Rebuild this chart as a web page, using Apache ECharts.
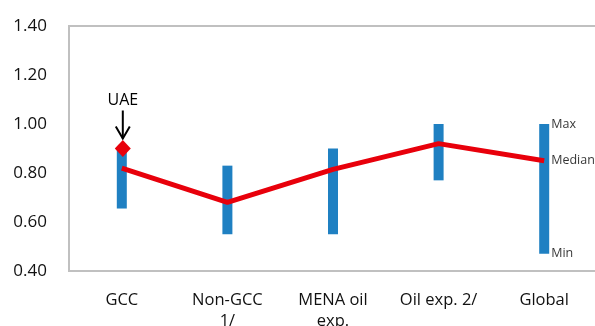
<!DOCTYPE html>
<html>
<head>
<meta charset="utf-8">
<script src="https://cdn.jsdelivr.net/npm/echarts@6/dist/echarts.min.js"></script>
<style>
  html, body { margin: 0; padding: 0; background: #fff; }
  #chart { width: 595px; height: 326px; }
</style>
</head>
<body>
<div id="chart"></div>
<script>
// Ranges of the ratio across each country group: min, median and max
const categories = ['GCC', 'Non-GCC\n1/', 'MENA oil\nexp.', 'Oil exp. 2/', 'Global'];
const maxVals = [0.90, 0.83, 0.90, 1.00, 1.00];
const minVals = [0.655, 0.55, 0.55, 0.77, 0.47];
const medians = [0.82, 0.68, 0.815, 0.92, 0.85];
const uaeValue = 0.90;
const uaeCategory = 'GCC';
const keyNames = ['Max', 'Median', 'Min'];
const yTicks = { min: 0.4, max: 1.4, interval: 0.2 };

const FONT = '"Open Sans", "Noto Sans", sans-serif';
const BLUE = '#1f80c2';
const RED = '#e8000b';

const chart = echarts.init(document.getElementById('chart'), null, { renderer: 'canvas' });

// Visible part of each bar spans min..max, stacked on an invisible base at min
const spans = maxVals.map((v, i) => +(v - minVals[i]).toFixed(4));
const lastIdx = categories.length - 1;
const keyPoints = [maxVals[lastIdx], medians[lastIdx], minVals[lastIdx]].map((v, i) => ({
  value: [categories[lastIdx], v],
  name: keyNames[i]
}));

chart.setOption({
  animation: false,
  grid: {
    left: 69, top: 26, width: 528, height: 245,
    outerBoundsMode: 'none', containLabel: false,
    show: true, borderColor: '#c0c0c0', borderWidth: 2, backgroundColor: 'transparent'
  },
  xAxis: {
    type: 'category',
    data: categories,
    axisLine: { show: false },
    axisTick: { show: false },
    axisLabel: { fontFamily: FONT, fontSize: 16.5, color: '#111', margin: 19, lineHeight: 21, interval: 0, verticalAlign: 'top' }
  },
  yAxis: {
    type: 'value',
    min: yTicks.min, max: yTicks.max, interval: yTicks.interval,
    splitLine: { show: false },
    axisLine: { show: false },
    axisTick: { show: false },
    axisLabel: { fontFamily: FONT, fontSize: 17, color: '#111', margin: 22, formatter: v => v.toFixed(2) }
  },
  series: [
    {
      type: 'bar', stack: 'range', barWidth: 10, silent: true,
      itemStyle: { color: 'transparent' },
      data: minVals
    },
    {
      type: 'bar', stack: 'range', barWidth: 10,
      itemStyle: { color: BLUE },
      data: spans
    },
    {
      type: 'line', data: medians, symbol: 'none', z: 5,
      lineStyle: { color: RED, width: 5 }
    },
    {
      type: 'scatter', z: 6,
      data: [[uaeCategory, uaeValue]],
      symbol: 'diamond', symbolSize: [16, 17], symbolOffset: [1, 0],
      itemStyle: { color: RED, opacity: 1 },
      label: {
        show: true, position: 'top', distance: 32,
        formatter: 'UAE', fontFamily: FONT, fontSize: 16, color: '#000'
      }
    },
    {
      type: 'scatter', z: 6,
      data: keyPoints,
      symbolSize: 0,
      label: {
        show: true, position: 'right', distance: 7,
        formatter: p => p.name, fontFamily: FONT, fontSize: 12.5, color: '#000'
      }
    }
  ]
});

// Arrow pointing from the "UAE" label down to its marker
const p = chart.convertToPixel({ gridIndex: 0 }, [uaeCategory, uaeValue]);
const ax = p[0] + 1, y0 = p[1] - 38, y1 = p[1] - 10;
chart.setOption({
  graphic: [{
    type: 'group', z: 10,
    children: [
      { type: 'line', shape: { x1: ax, y1: y0, x2: ax, y2: y1 }, style: { stroke: '#000', lineWidth: 2 } },
      { type: 'polyline', shape: { points: [[ax - 7, y1 - 12], [ax, y1], [ax + 7, y1 - 12]] }, style: { stroke: '#000', lineWidth: 2, fill: null } }
    ]
  }]
});
</script>
</body>
</html>
